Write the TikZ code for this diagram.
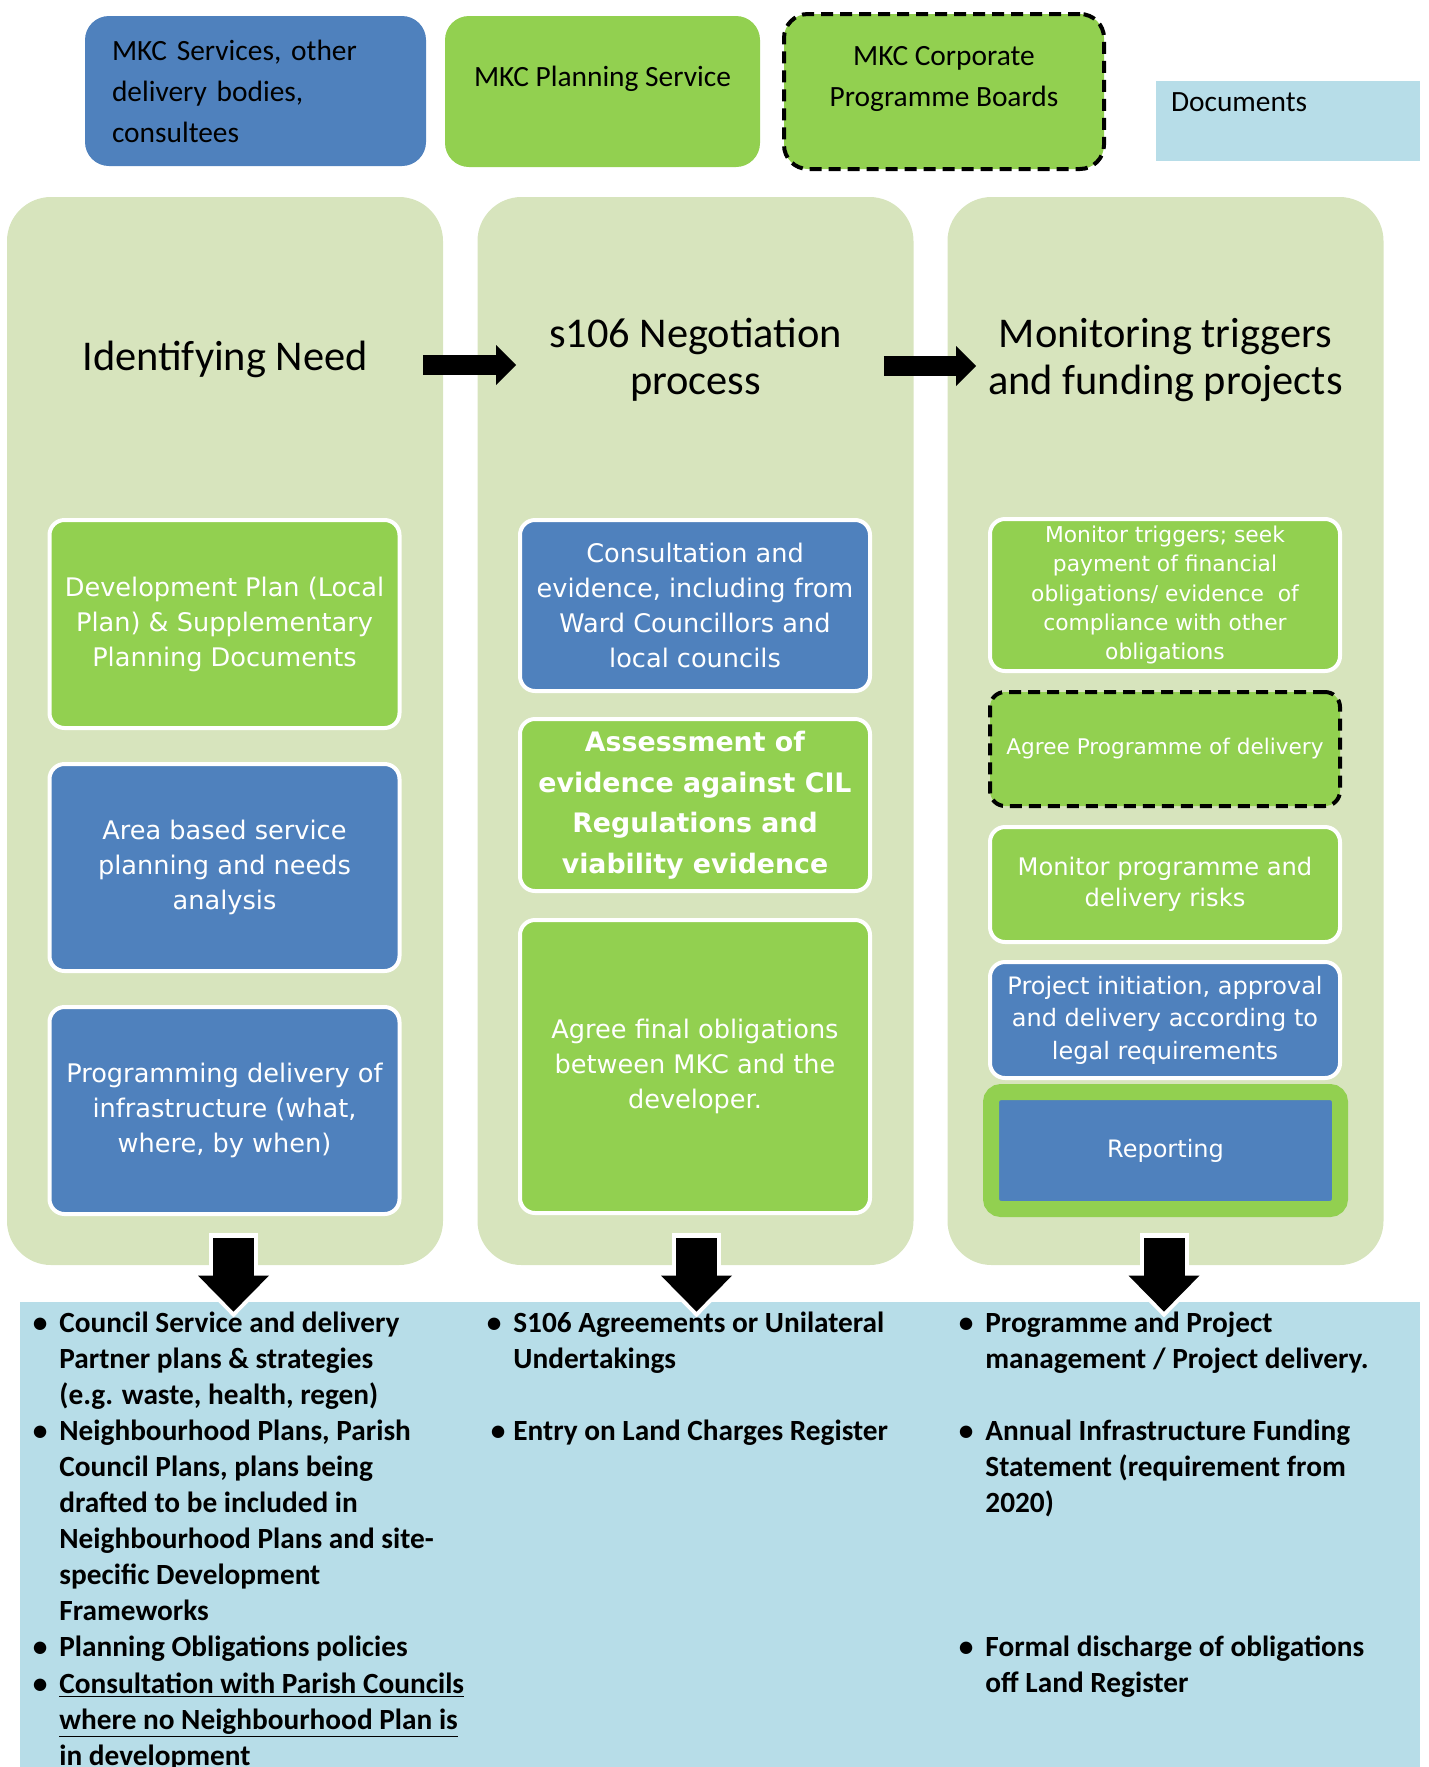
\documentclass[tikz,border=0pt]{standalone}
\usepackage{fontspec}
\setmainfont{Carlito}
\newfontfamily\boxfont{DejaVu Sans}
\usetikzlibrary{arrows.meta,calc}

\definecolor{mkcblue}{HTML}{4F81BD}
\definecolor{mkcgreen}{HTML}{92D050}
\definecolor{stagefill}{HTML}{D7E4BD}
\definecolor{docfill}{HTML}{B7DDE8}

\begin{document}
\begin{tikzpicture}[x=0.5pt,y=-0.5pt, % units are pixels, y runs down
        stage/.style={fill=stagefill,rounded corners=22pt,minimum width=218pt,minimum height=534pt,inner sep=0pt},
        heading/.style={font=\fontsize{21.2pt}{23.5pt}\selectfont,align=center,inner sep=0pt},
        keybox/.style={rounded corners=12pt,inner sep=0pt,font=\fontsize{14.7pt}{20.5pt}\selectfont},
        task/.style={rounded corners=7.5pt,draw=white,line width=2pt,text=white,align=center,inner sep=0pt,minimum width=175pt},
        boxtext/.style={font=\boxfont\fontsize{#1}{1.37\dimexpr #1\relax}\selectfont},
        dashbox/.style={draw=black,line width=2pt,dash pattern=on 6pt off 3.5pt},
        doclist/.style={anchor=base west,align=left,inner sep=0pt,font=\bfseries\fontsize{14.65pt}{18pt}\selectfont},
        hfat/.style={line width=10pt,-{Triangle[length=10pt 0 1,width=20pt 0 1,line width=0pt 0 1]}},
        fatdown/.style={line width=20.5pt,-{Triangle[length=18pt 0 1,width=35.5pt 0 1,line width=0pt 0 1]}},
        fatrim/.style={white,line width=24.5pt,shorten <=-2.5pt,shorten >=-2.85pt,
                -{Triangle[length=22.85pt 0 1,width=45pt 0 1,line width=0pt 0 1]}}]
        \useasboundingbox (0,0) rectangle (1429,1767);

        % the three stages and the documents strip
        \node[stage] (col1) at (225,731) {};
        \node[stage] (col2) at (695.5,731) {};
        \node[stage] (col3) at (1165.5,731) {};
        \node[fill=docfill,minimum width=700pt,minimum height=240pt,inner sep=0pt] (docpanel) at (720,1542) {};

        % key
        \node[keybox,fill=mkcblue,minimum width=170.5pt,minimum height=75pt,text width=143.5pt,align=left] (services) at (255.5,91)
                {MKC Services, other\\delivery bodies,\\consultees};
        \node[keybox,fill=mkcgreen,minimum width=157.5pt,minimum height=75.5pt,text depth=15pt] (planning) at (602.5,91.5)
                {MKC Planning Service};
        \node[keybox,fill=mkcgreen,dashbox,minimum width=160pt,minimum height=77.5pt,align=center,text height=30.5pt,text depth=16pt] (boards) at (944,91.5)
                {MKC Corporate\\Programme Boards};
        \node[keybox,rounded corners=0pt,fill=docfill,minimum width=132pt,minimum height=40pt,text width=117pt,align=left,text depth=19pt] (documents) at (1288,121)
                {Documents};

        \node[heading] (need) at (225,359) {Identifying Need};
        \node[heading] (nego) at (695.5,360) {s106 Negotiation\\process};
        \node[heading] (monitor) at (1165.5,360) {Monitoring triggers\\and funding projects};

        % identifying need
        \node[task,fill=mkcgreen,minimum height=104pt,boxtext=12.8pt] (devplan) at (224.5,624)
                {Development Plan (Local\\Plan) \& Supplementary\\Planning Documents};
        \node[task,fill=mkcblue,minimum height=103.5pt,boxtext=12.8pt] (area) at (224.5,867.5)
                {Area based service\\planning and needs\\analysis};
        \node[task,fill=mkcblue,minimum height=103.5pt,boxtext=12.8pt] (progdel) at (224.5,1110.5)
                {Programming delivery of\\infrastructure (what,\\where, by when)};

        % negotiation
        \node[task,fill=mkcblue,minimum height=85.5pt,boxtext=12.8pt] (consult) at (695,605.5)
                {Consultation and\\evidence, including from\\Ward Councillors and\\local councils};
        \node[task,fill=mkcgreen,minimum height=86pt,font=\boxfont\bfseries\fontsize{13.4pt}{20.25pt}\selectfont] (assess) at (695,805)
                {Assessment of\\evidence against CIL\\Regulations and\\viability evidence};
        \node[task,fill=mkcgreen,minimum height=146.5pt,boxtext=12.8pt] (agree) at (695,1066.5)
                {Agree final obligations\\between MKC and the\\developer.};

        % monitoring and funding
        \node[task,fill=mkcgreen,minimum height=76pt,font=\boxfont\fontsize{10.9pt}{14.7pt}\selectfont] (triggers) at (1165,595)
                {Monitor triggers; seek\\payment of financial\\obligations/ evidence~ of\\compliance with other\\obligations};
        \node[task,fill=mkcgreen,dashbox,minimum height=57pt,font=\boxfont\fontsize{10.8pt}{14pt}\selectfont] (progagree) at (1165,749)
                {Agree Programme of delivery};
        \node[task,fill=mkcgreen,minimum height=57.5pt,font=\boxfont\fontsize{12.1pt}{15.5pt}\selectfont] (risks) at (1165,884.5)
                {Monitor programme and\\delivery risks};
        \node[task,fill=mkcblue,minimum height=58pt,font=\boxfont\fontsize{12pt}{16.2pt}\selectfont] (initiation) at (1165,1020)
                {Project initiation, approval\\and delivery according to\\legal requirements};
        \node[task,fill=mkcblue,draw=mkcgreen,line width=8pt,rounded corners=5pt,minimum width=174.5pt,minimum height=58.5pt,
                font=\boxfont\fontsize{12pt}{16pt}\selectfont] (reporting) at (1165.5,1150.5) {Reporting};

        % flow between the stages
        \draw[hfat] ($(col1.east |- need.east)+(-20,6)$) -- ($(col2.west |- need.east)+(39,6)$);
        \draw[hfat] ($(col2.east |- need.east)+(-30,7)$) -- ($(col3.west |- need.east)+(29,7)$);
        \foreach \c/\dx in {col1/8.5,col2/1,col3/-1.5}{
                \draw[fatrim] ($(\c.south)+(\dx,-27)$) -- ($(\c.south |- docpanel.north)+(\dx,10)$);
                \draw[fatdown] ($(\c.south)+(\dx,-27)$) -- ($(\c.south |- docpanel.north)+(\dx,10)$);
        }

        % documents, each placed by the baseline of its last line
        \node[doclist] (needdocs) at (59,1404)
                {\llap{\textbullet\hspace{6pt}}Council Service and delivery\\Partner plans \& strategies\\(e.g. waste, health, regen)};
        \node[doclist] (nhplans) at (59,1620.5)
                {\llap{\textbullet\hspace{6pt}}Neighbourhood Plans, Parish\\Council Plans, plans being\\drafted to be included in\\Neighbourhood Plans and site-\\specific Development\\Frameworks};
        \node[doclist] (policies) at (59,1656.5)
                {\llap{\textbullet\hspace{6pt}}Planning Obligations policies};
        \node[doclist] (parish) at (59,1765)
                {\llap{\textbullet\hspace{6pt}}\underline{Consultation with Parish Councils}\\\underline{where no Neighbourhood Plan is}\\\underline{in development}};
        \node[doclist] (agreements) at (513,1368)
                {\llap{\textbullet\hspace{6pt}}S106 Agreements or Unilateral\\Undertakings};
        \node[doclist] (charges) at (513,1440)
                {\llap{\textbullet\hspace{4pt}}Entry on Land Charges Register};
        \node[doclist] (projects) at (985,1368)
                {\llap{\textbullet\hspace{6pt}}Programme and Project\\management / Project delivery.};
        \node[doclist] (statement) at (985,1512)
                {\llap{\textbullet\hspace{6pt}}Annual Infrastructure Funding\\Statement (requirement from\\2020)};
        \node[doclist] (discharge) at (985,1692.5)
                {\llap{\textbullet\hspace{6pt}}Formal discharge of obligations\\off Land Register};
\end{tikzpicture}
\end{document}
